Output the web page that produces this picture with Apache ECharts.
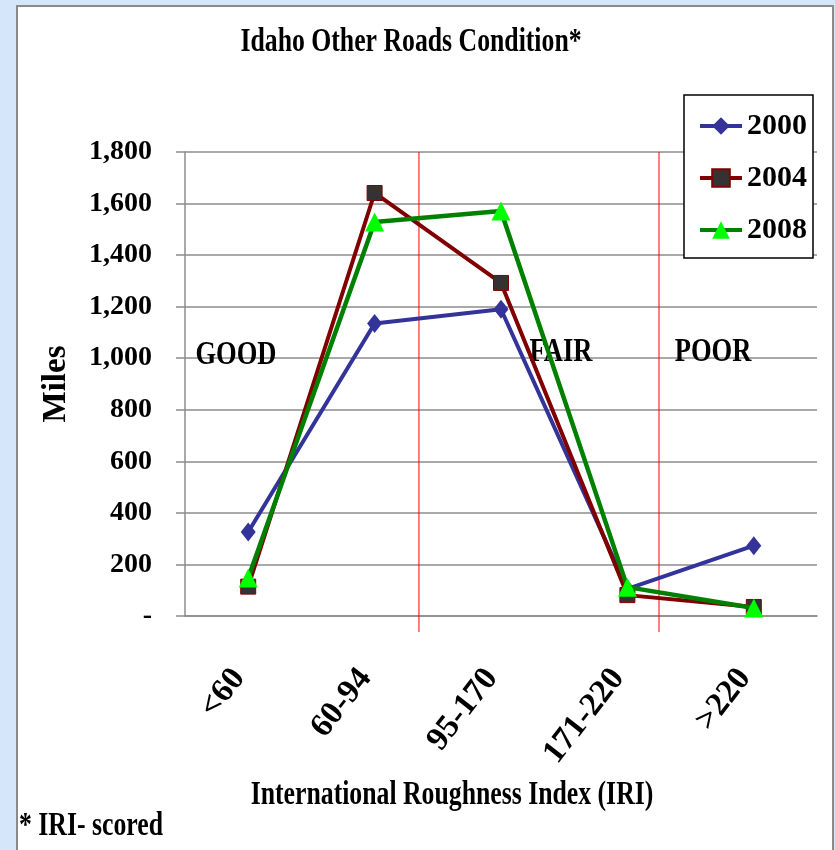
<!DOCTYPE html>
<html><head><meta charset="utf-8">
<script src="https://cdn.jsdelivr.net/npm/echarts@6/dist/echarts.min.js"></script>
<style>html,body{margin:0;padding:0;background:#d6e6fa}#c{width:835px;height:850px}</style>
</head><body><div id="c"></div>
<script>
const categories = ['<60', '60-94', '95-170', '171-220', '>220'];
const years = ['2000', '2004', '2008'];
const miles2000 = [326, 1135, 1190, 105, 273];
const miles2004 = [114, 1641, 1292, 81, 35];
const miles2008 = [147, 1528, 1571, 112, 31];
const yMin = 0, yMax = 1800, yStep = 200;
const dividers = [1.351, 3.25];
const zoneLabels = ['GOOD', 'FAIR', 'POOR'];

const serif = '"Liberation Serif","Times New Roman",serif';
const gridGray = '#8c8c8c';
const chart = echarts.init(document.getElementById('c'));

const zonePos = [[236, 355], [561, 352], [713, 352]];
const txt = (t, x, y, size, sx, align) => ({
  type: 'text', x: x, y: y, scaleX: sx, z: 1,
  style: { text: t, fontFamily: serif, fontWeight: 'bold', fontSize: size, fill: '#000',
           align: align || 'center', verticalAlign: 'middle' }
});

const graphic = [
  { type: 'rect', z: -1, silent: true, shape: { x: 17, y: 6, width: 816, height: 846 },
    style: { fill: '#fff', stroke: '#8a8a8a', lineWidth: 2 } },
  txt('Idaho Other Roads Condition*', 411, 42, 33, 0.78),
  txt('International Roughness Index (IRI)', 452, 795, 33, 0.78),
  txt('* IRI- scored', 19, 826, 33, 0.78, 'left')
];
zoneLabels.forEach((z, i) => graphic.push(txt(z, zonePos[i][0], zonePos[i][1], 34, 0.78)));

const dividerSeries = dividers.map(d => ({
  type: 'line', xAxisIndex: 1, data: [[d, yMax], [d, -62]], clip: false, symbol: 'none',
  silent: true, z: 1, lineStyle: { color: '#ff0000', width: 1 }
}));

const option = {
  backgroundColor: '#d6e6fa',
  animation: false,
  graphic: graphic,
  grid: { left: 185, right: 18, top: 152, bottom: 234 },
  legend: {
    data: years, orient: 'vertical', left: 684, top: 95,
    padding: [16, 6, 13, 14], itemGap: 22, itemWidth: 42, itemHeight: 22,
    borderColor: '#000', borderWidth: 1.5, backgroundColor: '#fff',
    lineStyle: { width: 4 },
    textStyle: { fontFamily: serif, fontWeight: 'bold', fontSize: 30, color: '#000' }
  },
  xAxis: [{
    type: 'category', data: categories,
    axisLine: { lineStyle: { color: gridGray, width: 1.5 } },
    axisTick: { inside: true, length: 10, lineStyle: { color: gridGray, width: 1.5 } },
    axisLabel: { rotate: 52, margin: 45, padding: [0, 15, 0, 0], interval: 0,
                 fontFamily: serif, fontWeight: 'bold', fontSize: 33, color: '#000' }
  }, { type: 'value', min: -0.5, max: 4.5, show: false }],
  yAxis: {
    type: 'value', min: yMin, max: yMax, interval: yStep,
    name: 'Miles', nameLocation: 'middle', nameGap: 112, nameRotate: 90,
    nameTextStyle: { fontFamily: serif, fontWeight: 'bold', fontSize: 33, color: '#000' },
    axisLine: { show: true, onZero: false, lineStyle: { color: gridGray, width: 1.5 } },
    axisTick: { show: true, length: 9, lineStyle: { color: gridGray, width: 1.5 } },
    splitLine: { lineStyle: { color: gridGray, width: 1.5 } },
    axisLabel: {
      margin: 33, fontFamily: serif, fontWeight: 'bold', fontSize: 28, color: '#000',
      formatter: v => v === 0 ? '-' : v.toLocaleString('en-US')
    }
  },
  series: [
    { name: '2000', type: 'line', data: miles2000, z: 2, symbol: 'diamond', symbolSize: [15, 19],
      itemStyle: { color: '#333399' }, lineStyle: { color: '#333399', width: 4 } },
    { name: '2004', type: 'line', data: miles2004, z: 3, symbol: 'rect', symbolSize: 15,
      itemStyle: { color: '#333333', borderColor: '#800000', borderWidth: 1 },
      lineStyle: { color: '#800000', width: 4 } },
    { name: '2008', type: 'line', data: miles2008, z: 4, symbol: 'triangle', symbolSize: 19,
      itemStyle: { color: '#00ff00' }, lineStyle: { color: '#008000', width: 4.5 } }
  ].concat(dividerSeries)
};
chart.setOption(option);
</script></body></html>
